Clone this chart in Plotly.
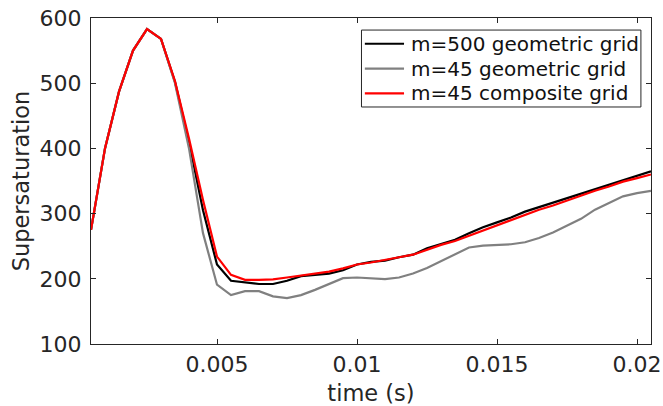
import plotly.graph_objects as go

time_s = [0.0005, 0.0010, 0.0015, 0.0020, 0.0025, 0.0030, 0.0035, 0.0040, 0.0045, 0.0050,
          0.0055, 0.0060, 0.0065, 0.0070, 0.0075, 0.0080, 0.0085, 0.0090, 0.0095, 0.0100,
          0.0105, 0.0110, 0.0115, 0.0120, 0.0125, 0.0130, 0.0135, 0.0140, 0.0145, 0.0150,
          0.0155, 0.0160, 0.0165, 0.0170, 0.0175, 0.0180, 0.0185, 0.0190, 0.0195, 0.0200,
          0.0205]

m500_geometric = [275, 400, 487, 550, 583, 568, 502, 410, 305, 222,
                  197, 194, 192, 192, 197, 204, 206, 208, 213, 222,
                  226, 228, 233, 237, 247, 253, 260, 270, 279, 286.5,
                  294, 303, 310, 317, 324, 331, 338, 345, 352, 358.5,
                  365]

m45_geometric = [275, 400, 487, 550, 583, 568, 500, 400, 270, 191,
                 175, 181, 181, 173, 170.5, 175, 183, 192, 201, 202,
                 201, 199.5, 202, 208, 216.5, 227, 237, 248, 251, 252,
                 253, 256, 262.5, 271, 281.5, 292, 306, 316, 326.5, 331.5,
                 335]

m45_composite = [275, 400, 487, 550, 583, 568, 503, 415, 321, 234,
                 206, 198.5, 198.5, 199, 202, 205, 207, 211, 216, 222,
                 225, 228.5, 233, 237, 245, 252, 258, 266, 275, 283,
                 290, 298, 306, 312.5, 320, 328, 335, 341.5, 349, 354.5,
                 360]

series_names = ["m=500 geometric grid", "m=45 geometric grid", "m=45 composite grid"]
x_tick_vals = [0.005, 0.01, 0.015, 0.02]
x_tick_text = ["0.005", "0.01", "0.015", "0.02"]
y_tick_vals = [100, 200, 300, 400, 500, 600]

colors = ["#000000", "#808080", "#ff0000"]
series = [m500_geometric, m45_geometric, m45_composite]

TEXT = "#262626"

fig = go.Figure()
for name, ys, c in zip(series_names, series, colors):
    fig.add_trace(go.Scatter(x=time_s, y=ys, mode="lines", name=name,
                             line=dict(color=c, width=2.2), showlegend=False))

axis_common = dict(showgrid=False, zeroline=False, showline=True, linecolor=TEXT,
                   linewidth=1, mirror="ticks", ticks="inside", ticklen=5, tickwidth=1,
                   tickcolor=TEXT, automargin=False,
                   tickfont=dict(family="DejaVu Sans", size=22, color=TEXT))

# Legend box (MATLAB-style), drawn in paper coordinates
leg_x0, leg_x1, leg_y0, leg_y1 = 0.483, 0.982, 0.727, 0.963
line_x0, line_x1, text_x = 0.489, 0.559, 0.5675
row_y = [0.921, 0.845, 0.769]

shapes = [dict(type="rect", xref="paper", yref="paper", x0=leg_x0, x1=leg_x1,
               y0=leg_y0, y1=leg_y1, line=dict(color=TEXT, width=1), fillcolor="white",
               layer="above")]
annotations = []
for name, c, ry in zip(series_names, colors, row_y):
    shapes.append(dict(type="line", xref="paper", yref="paper", x0=line_x0, x1=line_x1,
                       y0=ry, y1=ry, line=dict(color=c, width=2.2), layer="above"))
    annotations.append(dict(text=name, xref="paper", yref="paper", x=text_x, y=ry,
                            xanchor="left", yanchor="middle", showarrow=False,
                            font=dict(family="DejaVu Sans", size=20, color="#111111")))

fig.update_layout(
    width=663, height=406,
    margin=dict(l=91, r=12, t=18, b=62),
    paper_bgcolor="white", plot_bgcolor="white",
    font=dict(family="DejaVu Sans", color=TEXT),
    xaxis=dict(range=[0.0005, 0.0205], tickvals=x_tick_vals, ticktext=x_tick_text,
               ticklabelstandoff=1,
               title=dict(text="time (s)", font=dict(size=22.5, family="DejaVu Sans", color=TEXT),
                          standoff=8),
               **axis_common),
    yaxis=dict(range=[100, 600], tickvals=y_tick_vals, ticklabelstandoff=4,
               title=dict(text="Supersaturation", font=dict(size=22.5, family="DejaVu Sans", color=TEXT),
                          standoff=3),
               **axis_common),
    shapes=shapes,
    annotations=annotations,
    showlegend=False,
)

fig.write_html("out.html")
